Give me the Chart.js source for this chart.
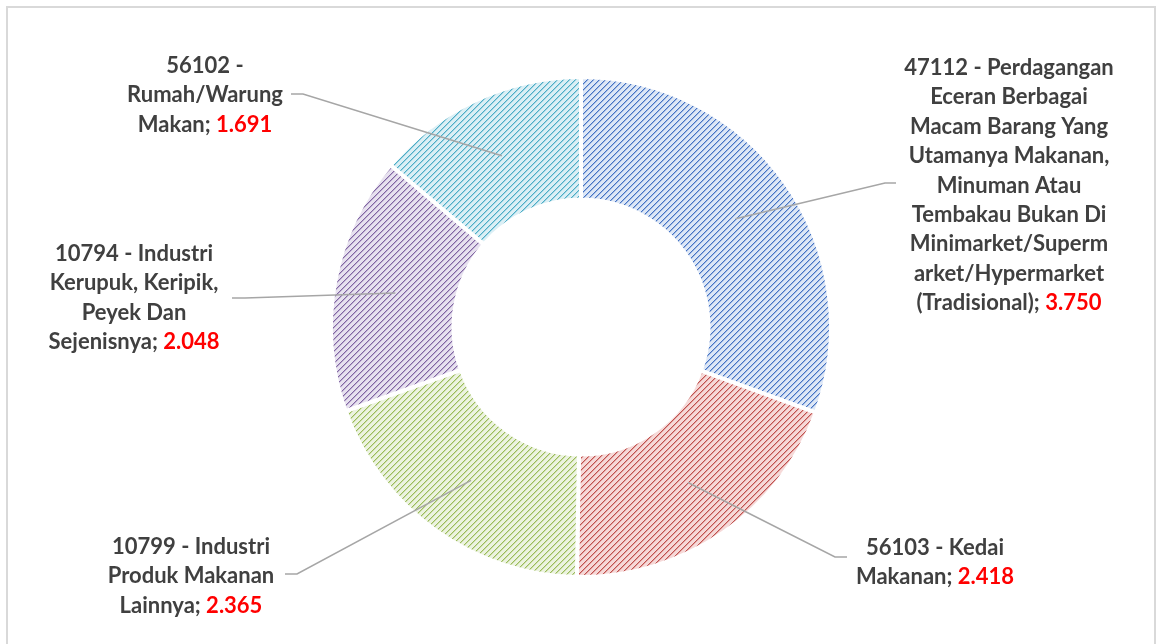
<!DOCTYPE html>
<html>
<head>
<meta charset="utf-8">
<script src="https://cdn.jsdelivr.net/npm/chart.js@4.4.0/dist/chart.umd.min.js"></script>
<style>
    html, body { margin: 0; padding: 0; background: #fff; overflow: hidden; }
    #frame { position: absolute; left: 6px; top: 6px; width: 1150px; height: 660px; border: 2px solid #d9d9d9; box-sizing: border-box; }
    #wrap { position: absolute; left: 0; top: 0; width: 1159px; height: 644px; }
</style>
</head>
<body>
<div id="frame"></div>
<div id="wrap"><canvas id="donut"></canvas></div>
<script>
// data
const categories = [
    "47112 - Perdagangan Eceran Berbagai Macam Barang Yang Utamanya Makanan, Minuman Atau Tembakau Bukan Di Minimarket/Supermarket/Hypermarket (Tradisional)",
    "56103 - Kedai Makanan",
    "10799 - Industri Produk Makanan Lainnya",
    "10794 - Industri Kerupuk, Keripik, Peyek Dan Sejenisnya",
    "56102 - Rumah/Warung Makan"
];
const values = [3750, 2418, 2365, 2048, 1691];
// wrapped label text as it appears in the picture (value is appended to the last line)
const labelLines = [
    ["47112 - Perdagangan", "Eceran Berbagai", "Macam Barang Yang", "Utamanya Makanan,", "Minuman Atau", "Tembakau Bukan Di", "Minimarket/Superm", "arket/Hypermarket", "(Tradisional);"],
    ["56103 - Kedai", "Makanan;"],
    ["10799 - Industri", "Produk Makanan", "Lainnya;"],
    ["10794 - Industri", "Kerupuk, Keripik,", "Peyek Dan", "Sejenisnya;"],
    ["56102 -", "Rumah/Warung", "Makan;"]
];

// style / layout
const darkColors = ["rgb(68,114,196)", "rgb(192,80,77)", "rgb(155,187,89)", "rgb(128,100,162)", "rgb(75,172,198)"];
const lightColors = ["rgb(221,231,246)", "rgb(246,217,216)", "rgb(236,243,224)", "rgb(231,225,239)", "rgb(219,239,245)"];
const labelPlaces = [
    { x: 1009, y: 68, elbow: [885, 183], end: [896, 183] },
    { x: 935, y: 548, elbow: [835, 557], end: [847, 557] },
    { x: 191, y: 547, elbow: [297, 574], end: [285, 574] },
    { x: 134, y: 254, elbow: [245, 298], end: [232, 298] },
    { x: 205, y: 66, elbow: [303, 94], end: [291, 94] }
];
const lineHeight = 29.4;
const labelFont = "bold 22px Lato";

function formatValue(v) {
    return (v / 1000).toFixed(3);
}

function makeHatch(dark, light) {
    const size = 6;
    const c = document.createElement('canvas');
    c.width = size;
    c.height = size;
    const g = c.getContext('2d');
    g.fillStyle = light;
    g.fillRect(0, 0, size, size);
    for (let y = 0; y < size; y++) {
        for (let x = 0; x < size; x++) {
            const k = (x + y) % size;
            if (k === 0) {
                g.fillStyle = dark;
                g.fillRect(x, y, 1, 1);
            } else if (k === 1) {
                g.globalAlpha = 0.4;
                g.fillStyle = dark;
                g.fillRect(x, y, 1, 1);
                g.globalAlpha = 1;
            }
        }
    }
    return g.createPattern(c, 'repeat');
}

const hatches = darkColors.map((d, i) => makeHatch(d, lightColors[i]));

const labelPlugin = {
    id: 'outerLabels',
    afterDatasetsDraw(chart) {
        const ctx = chart.ctx;
        const arcs = chart.getDatasetMeta(0).data;
        ctx.save();
        // leader lines
        ctx.strokeStyle = '#a6a6a6';
        ctx.lineWidth = 1.5;
        arcs.forEach((arc, i) => {
            const p = arc.tooltipPosition();
            const place = labelPlaces[i];
            ctx.beginPath();
            ctx.moveTo(p.x, p.y);
            ctx.lineTo(place.elbow[0], place.elbow[1]);
            ctx.lineTo(place.end[0], place.end[1]);
            ctx.stroke();
        });
        // text
        ctx.font = labelFont;
        ctx.textBaseline = 'middle';
        ctx.textAlign = 'left';
        labelLines.forEach((lines, i) => {
            const place = labelPlaces[i];
            lines.forEach((line, j) => {
                const y = place.y + j * lineHeight;
                const last = j === lines.length - 1;
                const valStr = last ? ' ' + formatValue(values[i]) : '';
                const w1 = ctx.measureText(line).width;
                const w2 = ctx.measureText(valStr).width;
                const x0 = place.x - (w1 + w2) / 2;
                ctx.fillStyle = '#404040';
                ctx.fillText(line, x0, y);
                if (last) {
                    ctx.fillStyle = '#ff0000';
                    ctx.fillText(valStr, x0 + w1, y);
                }
            });
        });
        ctx.restore();
    }
};

new Chart(document.getElementById('donut'), {
    type: 'doughnut',
    data: {
        labels: categories,
        datasets: [{
            data: values,
            backgroundColor: hatches,
            borderColor: '#ffffff',
            borderWidth: 4,
            hoverOffset: 0
        }]
    },
    options: {
        responsive: true,
        maintainAspectRatio: false,
        animation: false,
        cutout: '51%',
        layout: { padding: { top: 75, bottom: 65, left: 329, right: 326 } },
        plugins: {
            legend: { display: false },
            tooltip: { enabled: false }
        }
    },
    plugins: [labelPlugin]
});
</script>
</body>
</html>
